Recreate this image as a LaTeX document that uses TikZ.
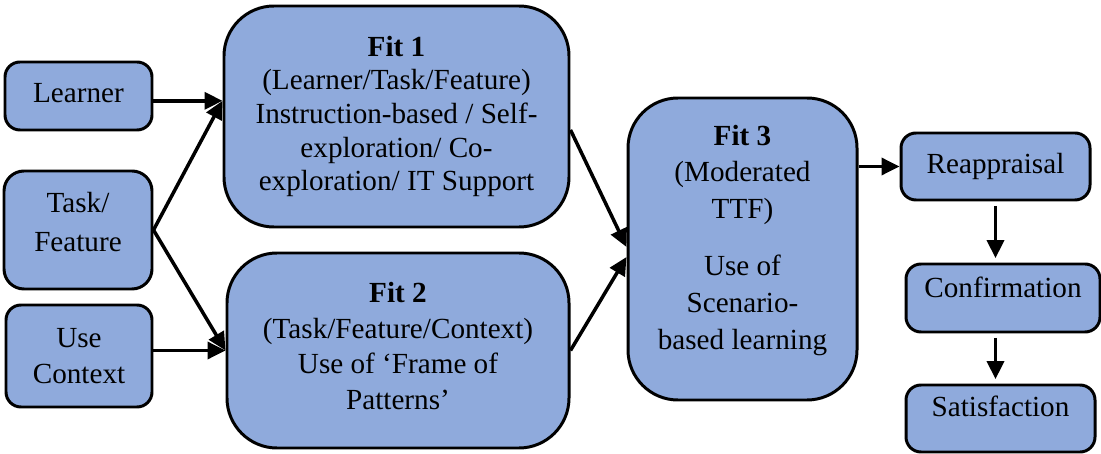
\documentclass[tikz,border=0pt]{standalone}
\usepackage{fontspec}
\setmainfont{Liberation Serif}
\usepackage{tikz}
\usetikzlibrary{arrows.meta,calc}
\definecolor{boxblue}{RGB}{143,170,220}
\tikzset{
smallbox/.style={draw, line width=1.7pt, fill=boxblue, rounded corners=0.3cm, align=center, inner sep=2pt, font=\fontsize{16.6}{20}\selectfont},
fitbox/.style={smallbox, rounded corners=1cm},
lift/.style={text depth=4pt, text height=#1},
link/.style={line width=2pt, -{Triangle[length=0.36cm,width=0.34cm]}}
}
\begin{document}
\begin{tikzpicture}
\useasboundingbox (0,0) rectangle (22.02,9.06);
\node[smallbox, lift=11.6pt, minimum width=2.94cm, minimum height=1.36cm] (L) at (1.57,7.14) {Learner};
\node[smallbox, lift=28.5pt, font=\fontsize{16.6}{22}\selectfont, minimum width=2.96cm, minimum height=2.36cm, rounded corners=0.4cm] (T) at (1.56,4.46) {Task/\\Feature};
\node[smallbox, font=\fontsize{16.6}{20.4}\selectfont, minimum width=2.92cm, minimum height=2.04cm] (U) at (1.58,1.94) {Use\\Context};
\node[fitbox, font=\fontsize{16.6}{19.2}\selectfont, minimum width=6.9cm, minimum height=4.42cm] (F1) at (7.93,6.73) {\textbf{Fit 1}\\(Learner/Task/Feature)\\Instruction-based / Self-\\exploration/ Co-\\exploration/ IT Support};
\node[fitbox, lift=71pt, font=\fontsize{16.6}{20.2}\selectfont, minimum width=6.84cm, minimum height=3.9cm] (F2) at (7.96,2.05) {\textbf{Fit 2}\\(Task/Feature/Context)\\Use of ‘Frame of\\Patterns’};
\node[fitbox, lift=118.3pt, font=\fontsize{16.6}{21}\selectfont, minimum width=4.58cm, minimum height=6.04cm] (F3) at (14.85,4.08) {\textbf{Fit 3}\\(Moderated\\TTF)\\[11.3pt]Use of\\Scenario-\\based learning};
\node[smallbox, minimum width=3.78cm, minimum height=1.34cm] (R) at (19.91,5.73) {Reappraisal};
\node[smallbox, lift=3.6pt, minimum width=3.88cm, minimum height=1.36cm] (C) at (20.06,3.1) {Confirmation};
\node[smallbox, lift=2pt, minimum width=3.78cm, minimum height=1.34cm] (S) at (20.01,0.69) {Satisfaction};
% arrow ends on the fit boxes
\coordinate (P) at ($(F1.north west)!0.43!(F1.south west)$);
\coordinate (Q) at ($(F1.north east)!0.56!(F1.south east)$);
\coordinate (M) at ($(F3.west)+(0,0.04)$);
\coordinate (N) at ($(F3.west)+(0,-0.16)$);
\draw[link] (L.east |- P) -- (P);
\draw[link] (T.east) -- (P);
\draw[link] (T.east) -- (F2.west);
\draw[link] (U.east |- F2.west) -- (F2.west);
\draw[link] (Q) -- (M);
\draw[link] (F2.east) -- (N);
\draw[link] (F3.east |- R.west) -- (R.west);
\draw[link, shorten <=2.5pt, shorten >=2.5pt] (R.south) -- (R.south |- C.north);
\draw[link, shorten <=2.5pt, shorten >=2.5pt] (R.south |- C.south) -- (R.south |- S.north);
\end{tikzpicture}
\end{document}
